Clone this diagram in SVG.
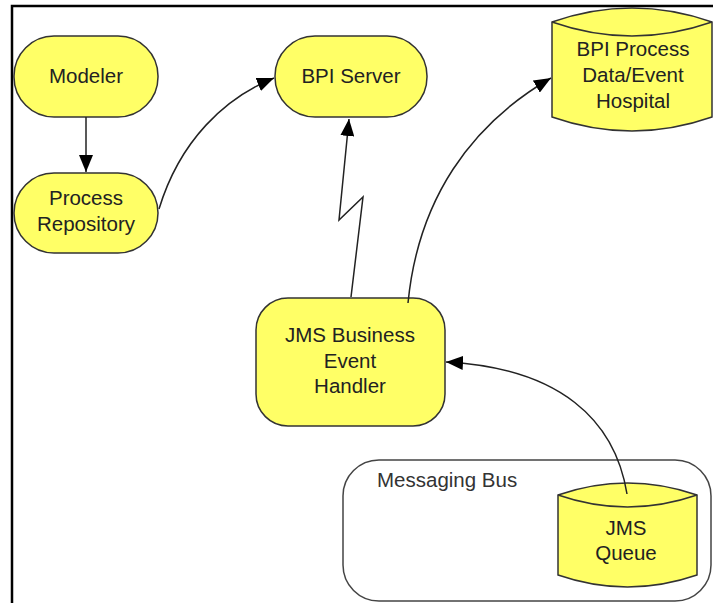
<svg xmlns="http://www.w3.org/2000/svg" width="713" height="603" viewBox="0 0 713 603">
<style>
.node{fill:#FFFF66;stroke:#333;stroke-width:1.5}
.lbl{font-family:"Liberation Sans",Arial,sans-serif;font-size:20.5px;fill:#222;text-anchor:middle}
.edge{fill:none;stroke:#222;stroke-width:1.5}
</style>
<defs>
<marker id="ah" markerUnits="userSpaceOnUse" markerWidth="18" markerHeight="14" refX="17" refY="7" orient="auto">
<path d="M0,0 L17,7 L0,14 Z" fill="#000"/>
</marker>
</defs>
<rect width="713" height="603" fill="#fff"/>
<g id="frame">
<path d="M12,603 V6 H713" fill="none" stroke="#000" stroke-width="2.5"/>
</g>
<g id="messaging-bus">
<rect x="343" y="460" width="368" height="141" rx="36" fill="#fff" stroke="#444" stroke-width="1.5"/>
<text x="377" y="487" font-family="Liberation Sans,Arial,sans-serif" font-size="20.5" fill="#333">Messaging Bus</text>
</g>
<g id="modeler">
<rect class="node" x="14" y="36" width="144" height="81" rx="40"/>
<text class="lbl" x="86" y="83">Modeler</text>
</g>
<g id="process-repository">
<rect class="node" x="14" y="173" width="144" height="80" rx="40"/>
<text class="lbl" x="86" y="205">Process</text>
<text class="lbl" x="86" y="231">Repository</text>
</g>
<g id="bpi-server">
<rect class="node" x="275" y="36" width="152" height="81" rx="40"/>
<text class="lbl" x="351" y="83">BPI Server</text>
</g>
<g id="hospital">
<path class="node" d="M552,22 Q632,-6 712,22 V117 Q632,145 552,117 Z"/>
<path d="M552,22 Q632,50 712,22" fill="none" stroke="#333" stroke-width="1.5"/>
<text class="lbl" x="633" y="56">BPI Process</text>
<text class="lbl" x="633" y="82">Data/Event</text>
<text class="lbl" x="633" y="108">Hospital</text>
</g>
<g id="jms-handler">
<rect class="node" x="256" y="298" width="189" height="128" rx="32"/>
<text class="lbl" x="350" y="342">JMS Business</text>
<text class="lbl" x="350" y="368">Event</text>
<text class="lbl" x="350" y="393">Handler</text>
</g>
<g id="jms-queue">
<path class="node" d="M558,495 Q627.5,471 697,495 V575 Q627.5,599 558,575 Z"/>
<path d="M558,495 Q627.5,519 697,495" fill="none" stroke="#333" stroke-width="1.5"/>
<text class="lbl" x="626" y="535">JMS</text>
<text class="lbl" x="626" y="560">Queue</text>
</g>
<g id="connectors">
<path class="edge" d="M86,117 V172" marker-end="url(#ah)"/>
<path class="edge" d="M159,209 C180,140 225,98 274,78" marker-end="url(#ah)"/>
<path class="edge" d="M351,297 L363,197 L339,220 L349,119" marker-end="url(#ah)"/>
<path class="edge" d="M408,303 C418,200 470,125 551,78" marker-end="url(#ah)"/>
<path class="edge" d="M627,494 C615,420 560,368 446,362" marker-end="url(#ah)"/>
</g>
</svg>
